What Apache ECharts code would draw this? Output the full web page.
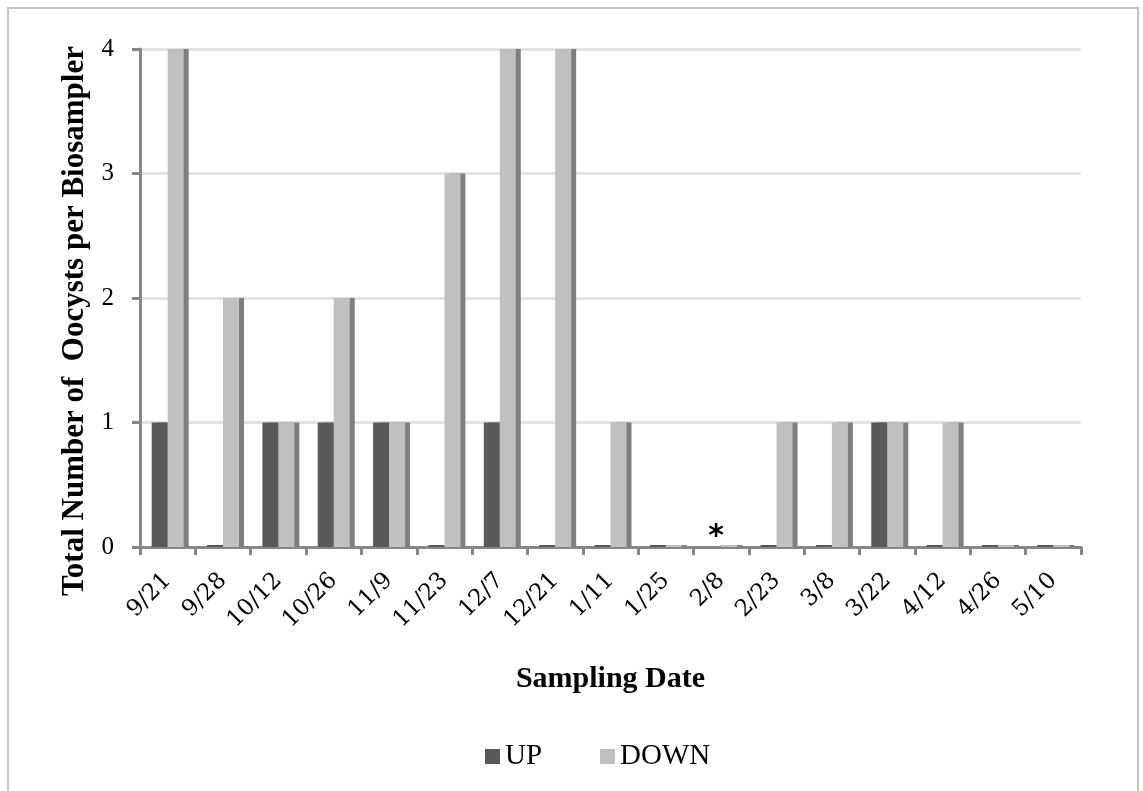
<!DOCTYPE html>
<html>
<head>
<meta charset="utf-8">
<script src="https://cdn.jsdelivr.net/npm/echarts@6/dist/echarts.min.js"></script>
<style>
  html, body { margin: 0; padding: 0; background: #fff; }
  #chart { width: 1143px; height: 791px; }
</style>
</head>
<body>
<div id="chart"></div>
<script>
// 采样日期
var dates = ['9/21', '9/28', '10/12', '10/26', '11/9', '11/23', '12/7', '12/21', '1/11',
             '1/25', '2/8', '2/23', '3/8', '3/22', '4/12', '4/26', '5/10'];
// UP 采样器 (2/8 没有数据，用 '-')
var upValues = [1, 0, 1, 1, 1, 0, 1, 0, 0, 0, '-', 0, 0, 1, 0, 0, 0];
// DOWN 采样器
var downValues = [4, 2, 1, 2, 1, 3, 4, 4, 1, 0, 0, 1, 1, 1, 1, 0, 0];
var yTicks = [0, 1, 2, 3, 4];

var myChart = echarts.init(document.getElementById('chart'));
myChart.setOption({
    animation: false,
    graphic: [{
        type: 'rect',
        shape: { x: 8, y: 8, width: 1130, height: 800 },
        style: { fill: 'none', stroke: '#c4c4c4', lineWidth: 2 }
    }, {
        // y轴标题
        type: 'text',
        x: 75,
        y: 321,
        rotation: Math.PI / 2,
        style: {
            text: 'Total Number of  Oocysts per Biosampler',
            align: 'center',
            verticalAlign: 'middle',
            font: 'bold 31px "Liberation Serif"',
            fill: '#000'
        }
    }],
    grid: { left: 140, right: 62, top: 49, bottom: 244 },
    legend: {
        top: 737,
        left: 480,
        itemGap: 58,
        itemWidth: 15,
        itemHeight: 15,
        icon: 'rect',
        textStyle: { fontFamily: 'Liberation Serif', fontSize: 29, color: '#000' },
        data: ['UP', 'DOWN']
    },
    xAxis: {
        type: 'category',
        data: dates,
        name: 'Sampling Date',
        nameLocation: 'middle',
        nameGap: 117,
        nameTextStyle: { fontFamily: 'Liberation Serif', fontWeight: 'bold', fontSize: 30, color: '#000' },
        axisLine: { lineStyle: { color: '#878787', width: 3 } },
        axisTick: { show: true, interval: 0, length: 8, lineStyle: { color: '#878787', width: 3 } },
        axisLabel: {
            interval: 0, rotate: 45, margin: 30,
            fontFamily: 'DejaVu Serif', fontSize: 23, color: '#000'
        }
    },
    yAxis: {
        type: 'value',
        min: yTicks[0],
        max: yTicks[yTicks.length - 1],
        interval: 1,
        axisLine: { show: true, lineStyle: { color: '#878787', width: 3 } },
        axisTick: { show: true, length: 8, lineStyle: { color: '#878787', width: 3 } },
        axisLabel: { margin: 26, fontFamily: 'Liberation Serif', fontSize: 25, color: '#000' },
        splitLine: { lineStyle: { color: '#e3e3e3', width: 3 } }
    },
    series: [{
        name: 'UP',
        type: 'bar',
        data: upValues,
        barWidth: 16,
        barGap: '0%',
        barMinHeight: 2,
        itemStyle: {
            color: '#595959',
            shadowColor: '#7f7f7f', shadowOffsetX: 5, shadowBlur: 0
        }
    }, {
        name: 'DOWN',
        type: 'bar',
        data: downValues,
        barWidth: 16,
        barGap: '0%',
        barMinHeight: 2,
        itemStyle: {
            color: '#c0c0c0',
            shadowColor: '#7f7f7f', shadowOffsetX: 5, shadowBlur: 0
        },
        markPoint: {
            symbol: 'circle',
            symbolSize: 0,
            data: [{ coord: ['2/8', 0] }],
            label: {
                show: true, formatter: '*', offset: [-13, -10],
                fontFamily: 'DejaVu Sans', fontWeight: 'bold', fontSize: 30, color: '#000'
            }
        }
    }]
});
</script>
</body>
</html>
